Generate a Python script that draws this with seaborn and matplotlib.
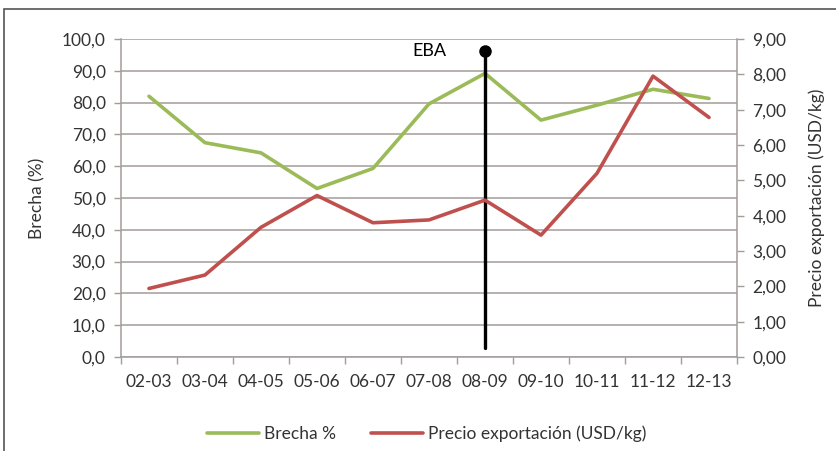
import matplotlib
matplotlib.use("Agg")
import matplotlib.pyplot as plt
import seaborn as sns
import pandas as pd
import numpy as np
from matplotlib.ticker import FixedLocator, FuncFormatter
from matplotlib.patches import Rectangle

categories = ["02-03", "03-04", "04-05", "05-06", "06-07", "07-08",
              "08-09", "09-10", "10-11", "11-12", "12-13"]
brecha = [82.0, 67.4, 64.2, 53.0, 59.3, 79.6, 89.2, 74.5, 79.2, 84.2, 81.3]
precio = [1.94, 2.32, 3.67, 4.57, 3.80, 3.88, 4.44, 3.45, 5.20, 7.95, 6.78]
eba_category = "08-09"
eba_range = [2.8, 96.3]

sns.set_theme(style="white")
plt.rcParams["font.family"] = ["Lato", "DejaVu Sans"]

green = "#9BBB59"
red = "#C0504D"
gridc = "#A39C9A"
textc = "#333333"
fs = 12.5

df = pd.DataFrame({"Periodo": categories, "Brecha": brecha, "Precio": precio})

fig = plt.figure(figsize=(8.36, 4.51), dpi=100)
ax = fig.add_axes([0.1447, 0.2084, 0.8816 - 0.1447, 0.9135 - 0.2084])
ax2 = ax.twinx()

sns.lineplot(data=df, x="Periodo", y="Brecha", ax=ax, color=green, lw=2.6,
             label="Brecha %", legend=False, sort=False)
sns.lineplot(data=df, x="Periodo", y="Precio", ax=ax2, color=red, lw=2.6,
             label="Precio exportación (USD/kg)", legend=False, sort=False)

n = len(categories)
ax.set_xlim(-0.5, n - 0.5)
ax.set_ylim(0, 100)
ax2.set_ylim(0, 9)

ax.set_yticks(np.arange(0, 101, 10))
ax.yaxis.set_major_formatter(FuncFormatter(lambda v, p: f"{v:.1f}".replace(".", ",")))
ax2.set_yticks(np.arange(0, 10, 1))
ax2.yaxis.set_major_formatter(FuncFormatter(lambda v, p: f"{v:.2f}".replace(".", ",")))

ax.grid(axis="y", color=gridc, lw=1.1)
ax.set_axisbelow(True)

ax.set_xticks(range(n))
ax.set_xticklabels(categories)
ax.xaxis.set_minor_locator(FixedLocator(np.arange(-0.5, n, 1.0)))
ax.tick_params(axis="x", which="major", length=0, pad=12, labelsize=fs, labelcolor=textc)
ax.tick_params(axis="x", which="minor", length=5, width=1, color=gridc, direction="out", bottom=True)
ax.tick_params(axis="y", length=5, width=1, color=gridc, direction="out", labelsize=fs,
               labelcolor=textc, pad=6, left=True)
ax2.tick_params(axis="y", length=5, width=1, color=gridc, direction="out", labelsize=fs,
                labelcolor=textc, pad=6, right=True)

for a in (ax, ax2):
    for s in a.spines.values():
        s.set_visible(False)
ax.spines["left"].set_visible(True)
ax.spines["bottom"].set_visible(True)
ax2.spines["right"].set_visible(True)
for sp in (ax.spines["left"], ax.spines["bottom"], ax2.spines["right"]):
    sp.set_color(gridc)
    sp.set_linewidth(1.1)

ax.set_xlabel("")
ax.set_ylabel("Brecha (%)", fontsize=fs, color=textc, labelpad=12)
ax2.set_ylabel("Precio exportación (USD/kg)", fontsize=fs, color=textc, labelpad=16)

# EBA marker
xi = categories.index(eba_category)
ax.plot([xi, xi], eba_range, color="black", lw=2.4, zorder=5)
ax.plot([xi], [eba_range[1]], "o", color="black", ms=8, zorder=6, clip_on=False)
ax.text(xi - 1.0, eba_range[1], "EBA", fontsize=13, color="black", ha="center", va="center")

ax2.set_zorder(ax.get_zorder() + 1)
ax2.patch.set_visible(False)

h1, l1 = ax.get_legend_handles_labels()
h2, l2 = ax2.get_legend_handles_labels()
fig.legend(h1 + h2, l1 + l2, loc="center", bbox_to_anchor=(0.51, 0.038), ncol=2,
           frameon=False, fontsize=fs, handlelength=3.0, handletextpad=0.3,
           columnspacing=2.0, labelcolor=textc)

# outer frame
fig.patches.append(Rectangle((4 / 836, -0.05), 1.2, 1 - 9 / 451 + 0.05, transform=fig.transFigure,
                             fill=False, edgecolor="#555555", lw=1.2))

fig.savefig("out.png", dpi=100)
